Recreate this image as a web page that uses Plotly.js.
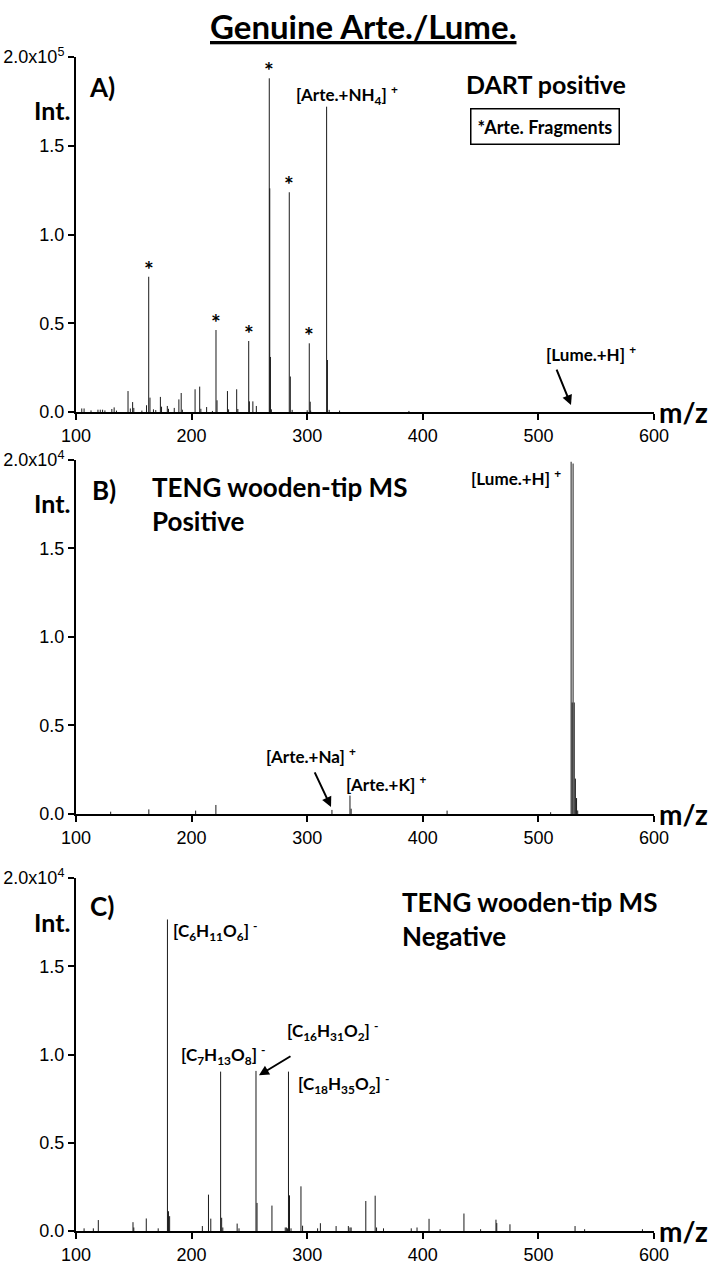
<!DOCTYPE html>
<html>
<head>
<meta charset="utf-8">
<script src="https://cdn.plot.ly/plotly-3.0.1.min.js"></script>
<style>
  html, body { margin: 0; padding: 0; background: #fff; }
  #plot { width: 709px; height: 1264px; }
</style>
</head>
<body>
<div id="plot"></div>
<script>
// A) DART positive, m/z and intensity
var mzA = [105, 107, 113, 119, 121, 123, 125, 131, 133, 135, 145, 147, 149, 150, 157, 161,
  162.9, 164, 167, 169, 173, 174, 179, 180, 185, 189, 191, 192, 203, 207, 208, 213, 218,
  221.1, 222, 231, 232, 239, 240, 249.4, 250, 253, 256, 267.2, 267.6, 268.2, 269,
  284.5, 285.4, 287, 300, 301.8, 302.6, 303, 316.8, 317.5, 319, 328, 388];
var intA = [2000, 2000, 900, 1300, 1300, 1300, 900, 1700, 2600, 800, 11800, 2000, 5600, 2300, 800, 3800,
  76200, 8100, 1500, 1100, 8500, 3000, 3400, 1800, 2300, 7100, 10700, 1300, 12800, 14300, 1800, 2800, 600,
  46200, 6600, 11800, 1500, 12800, 1700, 40000, 6000, 6000, 3400, 188000, 126000, 31000, 1500,
  123800, 20000, 1200, 1000, 38700, 5800, 800, 172000, 29300, 1200, 800, 600];
var fragA = [162.9, 221.1, 249.4, 267.2, 284.5, 301.8];

// B) TENG wooden-tip MS positive
var mzB = [130, 163, 203.5, 221, 321.4, 337, 338, 421, 510.6, 528.3, 529.2, 530, 531, 532, 533, 534];
var intB = [130, 260, 190, 510, 230, 1040, 300, 190, 100, 19900, 6300, 19800, 6300, 2000, 900, 200];

// C) TENG wooden-tip MS negative
var mzC = [107, 115, 119.3, 149.3, 150, 160.8, 171.1, 179.1, 180, 181, 209.3, 214.6, 216.6,
  225.1, 226, 227, 239.4, 241, 255.7, 256.6, 269.5, 281, 282, 283, 283.8, 284.7, 286,
  294.6, 296, 309, 311.4, 325, 335.6, 337, 338, 350.7, 358.8, 360, 366, 390, 395,
  405.4, 415, 435.6, 450, 463.3, 464, 475.4, 531.7, 540, 590];
var intC = [150, 150, 620, 500, 200, 710, 150, 17650, 1120, 840, 280, 2060, 700,
  9030, 750, 200, 420, 150, 9070, 1590, 1440, 200, 200, 150, 9030, 2020, 150,
  2530, 300, 150, 440, 280, 280, 200, 200, 1700, 2000, 200, 150, 150, 200,
  690, 100, 990, 100, 640, 450, 380, 280, 100, 100];

var tickValsX = [100, 200, 300, 400, 500, 600];
var tickValsA = [0, 50000, 100000, 150000, 200000];
var tickTextA = ["0.0", "0.5", "1.0", "1.5", "2.0x10<sup>5</sup>"];
var tickValsBC = [0, 5000, 10000, 15000, 20000];
var tickTextBC = ["0.0", "0.5", "1.0", "1.5", "2.0x10<sup>4</sup>"];

// stick spectrum: one vertical segment per peak
function sticks(mz, inten, xa, ya) {
  var xs = [], ys = [];
  for (var i = 0; i < mz.length; i++) {
    xs.push(mz[i], mz[i], null);
    ys.push(0, inten[i], null);
  }
  return {x: xs, y: ys, xaxis: xa, yaxis: ya, type: "scatter", mode: "lines",
    line: {color: "#1a1a1a", width: 1}, hoverinfo: "skip", showlegend: false};
}

var data = [
  sticks(mzA, intA, "x", "y"),
  sticks(mzB, intB, "x2", "y2"),
  sticks(mzC, intC, "x3", "y3")
];

var tickFont = {family: "Liberation Sans, Arial, sans-serif", size: 18, color: "#000"};
var labFont = "Lato, Open Sans, sans-serif";

function xaxis(anchor) {
  return {range: [100, 600], anchor: anchor, domain: [0, 1], showline: true, linecolor: "#000",
    linewidth: 2, ticks: "outside", ticklen: 6, tickwidth: 2, tickcolor: "#000",
    tickvals: tickValsX, tickfont: tickFont, showgrid: false, zeroline: false, fixedrange: true};
}
function yaxis(anchor, dom, top, vals, text) {
  return {range: [0, top], anchor: anchor, domain: dom, showline: true, linecolor: "#000",
    linewidth: 2, ticks: "outside", ticklen: 6, tickwidth: 2, tickcolor: "#000",
    tickvals: vals, ticktext: text, tickfont: tickFont, showgrid: false, zeroline: false, fixedrange: true};
}

function lab(xref, yref, x, y, text, size, extra) {
  var a = {xref: xref, yref: yref, x: x, y: y, text: text, showarrow: false,
    font: {family: labFont, size: size, color: "#000", weight: 700}};
  for (var k in extra) a[k] = extra[k];
  return a;
}
function arrow(xref, yref, x, y, ax, ay) {
  return {xref: xref, yref: yref, x: x, y: y, ax: ax, ay: ay, text: "", showarrow: true,
    arrowhead: 2, arrowsize: 1, arrowwidth: 2, arrowcolor: "#000"};
}

var ann = [];
// title
ann.push(lab("paper", "paper", 0.4965, 1.0264, "<u>Genuine Arte./Lume.</u>", 33, {yanchor: "middle"}));

// panel A
ann.push(lab("x", "y", 122.5, 183100, "A)", 26));
ann.push(lab("paper", "y", -0.076, 170000, "Int.", 25));
ann.push(lab("paper", "y", 1.005, 0, "m/z", 28, {xanchor: "left", yanchor: "middle"}));
ann.push(lab("x", "y", 334.4, 178600, "[Arte.+NH<sub>4</sub>] <sup>+</sup>", 17));
ann.push(lab("x", "y", 506.6, 184800, "DART positive", 25));
ann.push(lab("x", "y", 505.7, 161100, "*Arte. Fragments", 18,
  {bordercolor: "#000", borderwidth: 1.5, borderpad: 6}));
ann.push(lab("x", "y", 545.5, 33200, "[Lume.+H] <sup>+</sup>", 17));
ann.push(arrow("x", "y", 528.2, 3900, -15, -37));
fragA.forEach(function (m) {
  var i = mzA.indexOf(m);
  ann.push(lab("x", "y", m, intA[i], "*", 23, {yanchor: "bottom", yshift: -8}));
});

// panel B
ann.push(lab("x2", "y2", 124.2, 18300, "B)", 26));
ann.push(lab("paper", "y2", -0.076, 17570, "Int.", 25));
ann.push(lab("paper", "y2", 1.005, 0, "m/z", 28, {xanchor: "left", yanchor: "middle"}));
ann.push(lab("x2", "y2", 164, 17500, "TENG wooden-tip MS<br>Positive", 26, {xanchor: "left", align: "left"}));
ann.push(lab("x2", "y2", 480.6, 19000, "[Lume.+H] <sup>+</sup>", 17));
ann.push(lab("x2", "y2", 303.3, 3330, "[Arte.+Na] <sup>+</sup>", 17));
ann.push(arrow("x2", "y2", 320.6, 400, -17, -36));
ann.push(lab("x2", "y2", 369, 1700, "[Arte.+K] <sup>+</sup>", 17));

// panel C
ann.push(lab("x3", "y3", 122.5, 18430, "C)", 26));
ann.push(lab("paper", "y3", -0.076, 17530, "Int.", 25));
ann.push(lab("paper", "y3", 1.005, 0, "m/z", 28, {xanchor: "left", yanchor: "middle"}));
ann.push(lab("x3", "y3", 380.3, 17650, "TENG wooden-tip MS<br>Negative", 26, {xanchor: "left", align: "left"}));
ann.push(lab("x3", "y3", 221.1, 16970, "[C<sub>6</sub>H<sub>11</sub>O<sub>6</sub>] <sup>-</sup>", 17));
ann.push(lab("x3", "y3", 227.2, 10000, "[C<sub>7</sub>H<sub>13</sub>O<sub>8</sub>] <sup>-</sup>", 17));
ann.push(lab("x3", "y3", 322.3, 11350, "[C<sub>16</sub>H<sub>31</sub>O<sub>2</sub>] <sup>-</sup>", 17));
ann.push(arrow("x3", "y3", 258.3, 8820, 33, -20));
ann.push(lab("x3", "y3", 331, 8320, "[C<sub>18</sub>H<sub>35</sub>O<sub>2</sub>] <sup>-</sup>", 17));

var layout = {
  width: 709, height: 1264,
  margin: {l: 76, r: 55, t: 57, b: 33},
  paper_bgcolor: "#fff", plot_bgcolor: "#fff",
  showlegend: false,
  xaxis: xaxis("y"),
  yaxis: yaxis("x", [0.69761, 1], 200000, tickValsA, tickTextA),
  xaxis2: xaxis("y2"),
  yaxis2: yaxis("x2", [0.3552, 0.65673], 20000, tickValsBC, tickTextBC),
  xaxis3: xaxis("y3"),
  yaxis3: yaxis("x3", [0, 0.30068], 20000, tickValsBC, tickTextBC),
  annotations: ann
};

Plotly.newPlot("plot", data, layout, {staticPlot: true});
</script>
</body>
</html>
